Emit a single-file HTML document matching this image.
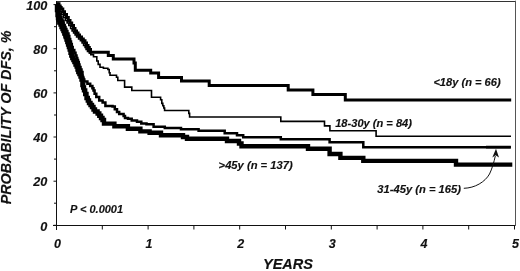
<!DOCTYPE html>
<html><head><meta charset="utf-8"><style>
html,body{margin:0;padding:0;background:#fff;}
body{width:520px;height:271px;overflow:hidden;position:relative;font-family:"Liberation Sans",sans-serif;}
svg{position:absolute;left:0;top:0;filter:grayscale(1);}
text{font-family:"Liberation Sans",sans-serif;font-weight:bold;font-style:italic;fill:#111;stroke:#111;stroke-width:0.15px;}
</style></head><body>
<svg width="520" height="271" viewBox="0 0 520 271">
<g fill="none" stroke-linejoin="miter" stroke-linecap="butt">
<path d="M56 1.5 H515.5" stroke="#333" stroke-width="1"/>
<path d="M515.5 0.7 V225.5" stroke="#555" stroke-width="1"/>
<path d="M56.5 1 V230" stroke="#111" stroke-width="1"/>
<path d="M53 225.5 H515.5" stroke="#111" stroke-width="1"/>
<path d="M56.5 225 V229.5" stroke="#111" stroke-width="1"/>
<path d="M102.3 225 V229.5" stroke="#111" stroke-width="1"/>
<path d="M148.1 225 V229.5" stroke="#111" stroke-width="1"/>
<path d="M193.9 225 V229.5" stroke="#111" stroke-width="1"/>
<path d="M239.7 225 V229.5" stroke="#111" stroke-width="1"/>
<path d="M285.5 225 V229.5" stroke="#111" stroke-width="1"/>
<path d="M331.3 225 V229.5" stroke="#111" stroke-width="1"/>
<path d="M377.1 225 V229.5" stroke="#111" stroke-width="1"/>
<path d="M422.9 225 V229.5" stroke="#111" stroke-width="1"/>
<path d="M468.7 225 V229.5" stroke="#111" stroke-width="1"/>
<path d="M514.5 225 V229.5" stroke="#111" stroke-width="1"/>
<path d="M53.5 225.3 H56.5" stroke="#111" stroke-width="1"/>
<path d="M54.0 203.2 H56.5" stroke="#111" stroke-width="1"/>
<path d="M53.5 181.2 H56.5" stroke="#111" stroke-width="1"/>
<path d="M54.0 159.1 H56.5" stroke="#111" stroke-width="1"/>
<path d="M53.5 137.0 H56.5" stroke="#111" stroke-width="1"/>
<path d="M54.0 115.0 H56.5" stroke="#111" stroke-width="1"/>
<path d="M53.5 92.9 H56.5" stroke="#111" stroke-width="1"/>
<path d="M54.0 70.8 H56.5" stroke="#111" stroke-width="1"/>
<path d="M53.5 48.7 H56.5" stroke="#111" stroke-width="1"/>
<path d="M54.0 26.7 H56.5" stroke="#111" stroke-width="1"/>
<path d="M53.5 4.6 H56.5" stroke="#111" stroke-width="1"/>
<path d="M56.5 4.6 H56.5 V6.0 H57.3 V7.5 H58.3 V9.0 H59.9 V11.8 H61.6 V14.5 H63.6 V17.5 H65.4 V20.5 H67.1 V23.0 H68.8 V25.5 H70.6 V28.5 H72.1 V31.0 H73.6 V33.0 H75.1 V35.0 H76.6 V37.0 H78.6 V39.0 H80.4 V40.8 H82.1 V43.0 H83.6 V45.5 H85.1 V47.5 H86.1 V49.5 H87.5 V51.5 H89.2 V53.0 H90.8 V54.6 H93.5 V56.8 H96.8 V61.0 H98.2 V64.4 H100.0 V67.3 H103.4 V68.2 H107.9 V69.5 H109.2 V72.7 H110.0 V75.3 H116.5 V77.3 H117.8 V80.5 H124.6 V87.1 H131.8 V90.5 H151.5 V97.2 H160.6 V99.8 H161.8 V103.4 H162.8 V105.7 H163.8 V108.0 H164.6 V110.5 H188.8 V113.4 H189.6 V117.0 H280.8 V121.4 H324.5 V125.9 H329.9 V130.8 H376.1 V136.3 H511.0" stroke="#000" stroke-width="1.6"/>
<path d="M56.5 4.6 H57.5 V8.0 H58.5 V11.0 H59.5 V14.0 H60.5 V17.0 H61.5 V19.5 H62.5 V21.0 H63.5 V23.0 H63.7 V25.0 H64.7 V27.0 H65.5 V29.0 H66.4 V31.0 H67.4 V33.5 H68.5 V36.0 H69.3 V39.0 H70.2 V41.6 H71.0 V44.0 H71.8 V47.0 H72.7 V50.0 H74.3 V52.7 H75.5 V55.5 H76.5 V58.0 H77.3 V60.0 H78.0 V62.0 H78.8 V64.5 H79.5 V67.0 H80.5 V69.5 H81.5 V72.0 H82.5 V74.5 H82.3 V77.0 H83.3 V79.5 H84.3 V81.5 H87.4 V83.8 H90.2 V86.0 H92.4 V88.2 H93.5 V90.4 H94.6 V93.7 H96.3 V97.0 H99.2 V100.4 H102.6 V102.6 H105.4 V106.0 H112.5 V106.5 H114.8 V109.3 H117.0 V112.0 H119.2 V114.0 H123.6 V116.0 H125.0 V117.9 H128.0 V118.8 H131.7 V120.5 H137.0 V121.8 H141.3 V123.6 H146.5 V124.2 H153.6 V126.7 H164.8 V128.1 H181.0 V129.3 H198.6 V130.8 H224.7 V133.3 H237.0 V135.3 H243.2 V137.2 H280.8 V139.3 H329.6 V142.3 H363.3 V147.3 H510.8" stroke="#000" stroke-width="2.5"/>
<path d="M56.5 4.6 H57.0 V10.0 H57.5 V15.0 H58.0 V18.0 H58.6 V20.0 H59.3 V22.5 H60.5 V24.5 H61.5 V27.0 H62.5 V29.0 H63.4 V31.0 H64.3 V33.5 H65.3 V35.5 H65.7 V37.0 H66.5 V39.5 H67.3 V42.0 H68.1 V44.5 H68.9 V47.0 H69.7 V49.5 H70.5 V52.7 H71.3 V55.5 H72.3 V58.0 H73.4 V60.0 H74.4 V62.0 H75.5 V64.5 H76.6 V66.6 H77.5 V69.5 H78.3 V72.0 H79.4 V74.0 H80.5 V76.5 H81.5 V79.5 H82.5 V82.5 H82.4 V85.0 H83.2 V87.5 H84.0 V90.4 H85.2 V94.0 H86.5 V98.0 H87.8 V100.5 H89.0 V103.0 H90.5 V105.0 H92.0 V107.0 H93.5 V109.5 H95.0 V111.5 H97.6 V113.5 H99.3 V115.8 H101.0 V118.0 H102.5 V120.0 H104.0 V123.6 H114.4 V126.3 H127.9 V128.7 H140.4 V131.4 H149.6 V132.8 H161.0 V135.3 H183.0 V137.0 H187.0 V138.8 H227.0 V141.0 H239.0 V143.5 H241.5 V146.2 H308.0 V148.7 H329.6 V154.0 H340.4 V157.9 H363.3 V160.9 H456.0 V164.6 H512.3" stroke="#000" stroke-width="4.4"/>
<path d="M56.5 3.8 H59.0 V6.0 H60.2 V7.5 H61.2 V9.0 H62.8 V11.8 H64.5 V14.5 H66.5 V17.5 H68.3 V20.5 H70.0 V23.0 H71.7 V25.5 H73.5 V28.5 H75.0 V31.0 H76.5 V33.0 H78.0 V35.0 H79.5 V37.0 H81.5 V39.0 H83.3 V40.8 H85.0 V43.0 H86.5 V45.5 H88.0 V47.5 H89.3 V49.5 H90.5 V52.2 H108.3 V55.5 H113.3 V59.1 H134.0 V63.0 H135.3 V70.2 H150.7 V73.0 H158.6 V77.4 H181.5 V81.1 H209.2 V85.4 H288.2 V89.9 H312.9 V94.4 H345.3 V100.1 H511.2" stroke="#000" stroke-width="3"/>
<path d="M486 147.1 H510.8" stroke="#000" stroke-width="2.7"/>
<path d="M463.8 188.3 C475 188, 485 182, 489.5 174 C492 169, 494 162, 495.3 156" stroke="#111" stroke-width="1"/>
</g>
<path d="M496 148.8 L499 157.5 L495.6 155.3 L492.3 157.5 Z" fill="#111"/>
<text x="47.3" y="230.5" font-size="12.7" text-anchor="end">0</text>
<text x="47.3" y="186.4" font-size="12.7" text-anchor="end">20</text>
<text x="47.3" y="142.2" font-size="12.7" text-anchor="end">40</text>
<text x="47.3" y="98.1" font-size="12.7" text-anchor="end">60</text>
<text x="47.3" y="53.9" font-size="12.7" text-anchor="end">80</text>
<text x="47.3" y="9.8" font-size="12.7" text-anchor="end">100</text>
<text x="57.5" y="247.6" font-size="12.5" text-anchor="middle">0</text>
<text x="149.1" y="247.6" font-size="12.5" text-anchor="middle">1</text>
<text x="240.7" y="247.6" font-size="12.5" text-anchor="middle">2</text>
<text x="332.3" y="247.6" font-size="12.5" text-anchor="middle">3</text>
<text x="423.9" y="247.6" font-size="12.5" text-anchor="middle">4</text>
<text x="515.5" y="247.6" font-size="12.5" text-anchor="middle">5</text>
<text x="288" y="268.7" font-size="14.5" text-anchor="middle">YEARS</text>
<text transform="translate(10.6,117.5) rotate(-90)" font-size="14.3" text-anchor="middle">PROBABILITY OF DFS, %</text>
<text x="70" y="213.1" font-size="11">P &lt; 0.0001</text>
<text x="433.4" y="86.1" font-size="11.1">&lt;18y (n = 66)</text>
<text x="335.2" y="127.3" font-size="11.1">18-30y (n = 84)</text>
<text x="218.6" y="169.4" font-size="11.2">&gt;45y (n = 137)</text>
<text x="377.3" y="192.6" font-size="11.2">31-45y (n = 165)</text>
</svg>
</body></html>
